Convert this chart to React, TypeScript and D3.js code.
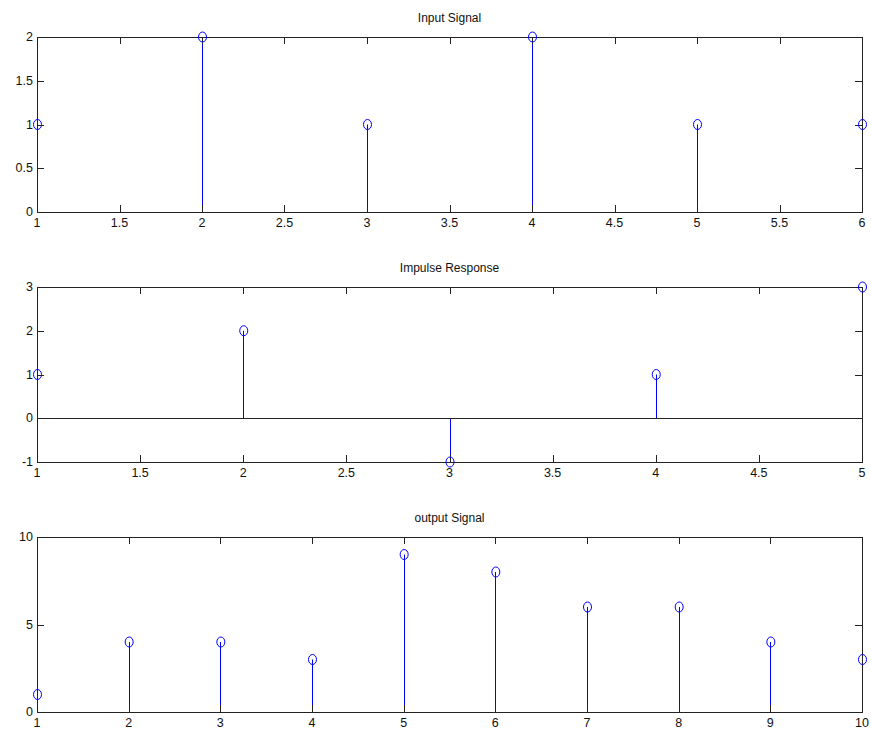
import * as d3 from 'd3';
import React, { useEffect, useRef } from 'react';

const inputX = [1, 2, 3, 4, 5, 6];
const inputY = [1, 2, 1, 2, 1, 1];
const inputXTicks = [1, 1.5, 2, 2.5, 3, 3.5, 4, 4.5, 5, 5.5, 6];
const inputYTicks = [0, 0.5, 1, 1.5, 2];

const impulseX = [1, 2, 3, 4, 5];
const impulseY = [1, 2, -1, 1, 3];
const impulseXTicks = [1, 1.5, 2, 2.5, 3, 3.5, 4, 4.5, 5];
const impulseYTicks = [-1, 0, 1, 2, 3];

const outputX = [1, 2, 3, 4, 5, 6, 7, 8, 9, 10];
const outputY = [1, 4, 4, 3, 9, 8, 6, 6, 4, 3];
const outputXTicks = [1, 2, 3, 4, 5, 6, 7, 8, 9, 10];
const outputYTicks = [0, 5, 10];

const panels = [
  { title: 'Input Signal', xs: inputX, ys: inputY, xTicks: inputXTicks, yTicks: inputYTicks, top: 37 },
  { title: 'Impulse Response', xs: impulseX, ys: impulseY, xTicks: impulseXTicks, yTicks: impulseYTicks, top: 287 },
  { title: 'output Signal', xs: outputX, ys: outputY, xTicks: outputXTicks, yTicks: outputYTicks, top: 537 },
];

const W = 871;
const H = 734;
const left = 37;
const right = 862;
const plotH = 175;
const font = 'Arial, "Liberation Sans", sans-serif';

const App = () => {
  const svgRef = useRef(null);

  useEffect(() => {
    const svg = d3.select(svgRef.current);
    svg.selectAll('*').remove();
    svg.append('rect').attr('width', W).attr('height', H).attr('fill', '#fff');

    panels.forEach((p) => {
      const x = d3.scaleLinear().domain(d3.extent(p.xTicks) as [number, number]).range([left, right]);
      const y = d3
        .scaleLinear()
        .domain(d3.extent(p.yTicks) as [number, number])
        .range([p.top + plotH, p.top]);
      const g = svg.append('g');
      const tick = 7;

      // stems
      p.xs.forEach((xv, i) => {
        const xp = Math.round(x(xv)) + 0.5;
        g.append('line')
          .attr('x1', xp)
          .attr('x2', xp)
          .attr('y1', y(0))
          .attr('y2', y(p.ys[i]))
          .attr('stroke', '#0000ff')
          .attr('stroke-width', 1);
      });

      // inner ticks, bottom/top
      p.xTicks.forEach((t) => {
        const xp = Math.round(x(t)) + 0.5;
        g.append('line').attr('x1', xp).attr('x2', xp).attr('y1', p.top + plotH).attr('y2', p.top + plotH - tick).attr('stroke', '#222');
        g.append('line').attr('x1', xp).attr('x2', xp).attr('y1', p.top).attr('y2', p.top + tick).attr('stroke', '#222');
        g.append('text')
          .attr('x', x(t))
          .attr('y', p.top + plotH + 15)
          .attr('text-anchor', 'middle')
          .attr('font-family', font)
          .attr('font-size', 12.5)
          .attr('fill', '#111')
          .text(String(t));
      });
      p.yTicks.forEach((t) => {
        const yp = Math.round(y(t)) + 0.5;
        g.append('line').attr('x1', left).attr('x2', left + tick).attr('y1', yp).attr('y2', yp).attr('stroke', '#222');
        g.append('line').attr('x1', right).attr('x2', right - tick).attr('y1', yp).attr('y2', yp).attr('stroke', '#222');
        g.append('text')
          .attr('x', left - 4)
          .attr('y', y(t) + 4)
          .attr('text-anchor', 'end')
          .attr('font-family', font)
          .attr('font-size', 12.5)
          .attr('fill', '#111')
          .text(String(t));
      });

      // baseline at zero if inside the range
      const yd = y.domain();
      if (yd[0] < 0 && yd[1] > 0) {
        const y0 = Math.round(y(0)) + 0.5;
        g.append('line').attr('x1', left).attr('x2', right).attr('y1', y0).attr('y2', y0).attr('stroke', '#222');
      }

      // box
      g.append('rect')
        .attr('x', left + 0.5)
        .attr('y', p.top + 0.5)
        .attr('width', right - left)
        .attr('height', plotH)
        .attr('fill', 'none')
        .attr('stroke', '#222');

      // markers
      p.xs.forEach((xv, i) => {
        g.append('ellipse')
          .attr('cx', x(xv) + 0.5)
          .attr('cy', y(p.ys[i]))
          .attr('rx', 4)
          .attr('ry', 5)
          .attr('fill', 'none')
          .attr('stroke', '#0000ff')
          .attr('stroke-width', 1);
      });

      g.append('text')
        .attr('x', (left + right) / 2)
        .attr('y', p.top - 15)
        .attr('text-anchor', 'middle')
        .attr('font-family', font)
        .attr('font-size', 12)
        .attr('fill', '#111')
        .text(p.title);
    });
  }, []);

  return <svg ref={svgRef} width={W} height={H} style={{ position: 'absolute', left: 0, top: 0 }} />;
};

export default App;
